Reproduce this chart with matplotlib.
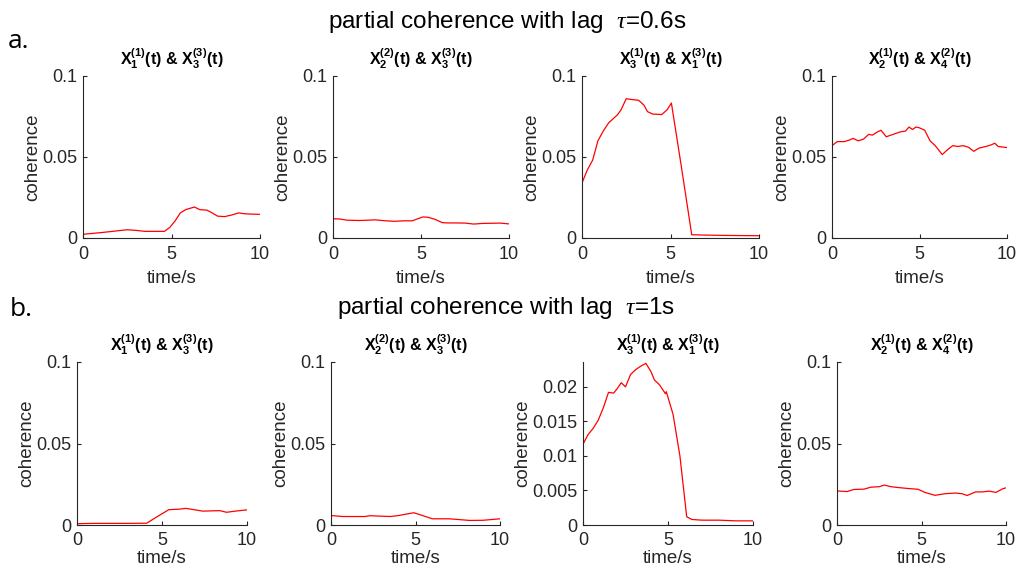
import matplotlib
matplotlib.use("Agg")
import matplotlib.pyplot as plt
import numpy as np

plt.rcParams['font.family'] = ['Liberation Sans', 'DejaVu Sans']
plt.rcParams['mathtext.fontset'] = 'custom'
plt.rcParams['mathtext.rm'] = 'Liberation Sans'
plt.rcParams['mathtext.bf'] = 'Liberation Sans:bold'
plt.rcParams['mathtext.it'] = 'Liberation Serif:italic'
plt.rcParams['mathtext.default'] = 'bf'

# ---------------- data ----------------
titles = [
    r'X$_1^{(1)}$(t) & X$_3^{(3)}$(t)',
    r'X$_2^{(2)}$(t) & X$_3^{(3)}$(t)',
    r'X$_3^{(1)}$(t) & X$_1^{(3)}$(t)',
    r'X$_2^{(1)}$(t) & X$_4^{(2)}$(t)',
]
row_titles = [r'partial coherence with lag  $\mathit{\tau}$=0.6s', r'partial coherence with lag  $\mathit{\tau}$=1s']
row_labels = ['a.', 'b.']

# lag 0.6 s
a1_t = [0, 1, 2, 2.5, 3, 3.5, 4, 4.6, 4.9, 5.2, 5.5, 5.8, 6.1, 6.3, 6.6, 7.0, 7.3, 7.6, 8.0, 8.4, 8.8, 9.1, 9.4, 10]
a1_v = [0.0023, 0.0033, 0.0045, 0.0051, 0.0047, 0.0041, 0.0041, 0.0041, 0.0065, 0.0105, 0.0155, 0.0175, 0.0185, 0.0191, 0.0175, 0.0172, 0.0155, 0.0135, 0.0132, 0.0142, 0.0155, 0.0150, 0.0148, 0.0146]
a2_t = [0, 0.4, 0.8, 1.5, 2.0, 2.4, 3.0, 3.5, 4.0, 4.5, 4.8, 5.1, 5.4, 5.8, 6.2, 6.5, 7.0, 7.5, 8.0, 8.5, 9.0, 9.5, 10]
a2_v = [0.0119, 0.0117, 0.0110, 0.0108, 0.0110, 0.0112, 0.0106, 0.0103, 0.0106, 0.0106, 0.0118, 0.0130, 0.0128, 0.0115, 0.0095, 0.0093, 0.0093, 0.0092, 0.0086, 0.0090, 0.0091, 0.0092, 0.0087]
a3_t = [0, 0.3, 0.6, 0.9, 1.2, 1.5, 2.0, 2.2, 2.5, 2.8, 3.2, 3.5, 3.7, 4.0, 4.5, 4.8, 5.05, 5.6, 6.2, 7.0, 8.0, 9.0, 10]
a3_v = [0.034, 0.042, 0.048, 0.060, 0.066, 0.071, 0.076, 0.079, 0.086, 0.0855, 0.085, 0.082, 0.078, 0.0765, 0.0762, 0.079, 0.0833, 0.045, 0.0020, 0.0018, 0.0016, 0.0015, 0.0014]
a4_t = [0, 0.3, 0.7, 1.0, 1.2, 1.5, 1.8, 2.1, 2.3, 2.6, 2.8, 3.1, 3.5, 3.9, 4.2, 4.4, 4.6, 4.8, 5.0, 5.3, 5.6, 5.9, 6.3, 6.6, 6.9, 7.2, 7.5, 7.8, 8.1, 8.4, 8.8, 9.1, 9.3, 9.5, 10]
a4_v = [0.057, 0.0595, 0.0595, 0.0605, 0.0615, 0.0600, 0.0610, 0.0640, 0.0635, 0.0655, 0.0665, 0.0625, 0.0640, 0.0655, 0.0660, 0.0685, 0.0670, 0.0685, 0.0680, 0.0665, 0.0600, 0.0570, 0.0515, 0.0545, 0.0570, 0.0565, 0.0570, 0.0560, 0.0535, 0.0555, 0.0565, 0.0575, 0.0585, 0.0565, 0.0558]

# lag 1 s
b1_t = [0, 1, 2, 3, 4.1, 4.7, 5.4, 6.0, 6.4, 7.0, 7.4, 8.0, 8.4, 8.8, 9.3, 10]
b1_v = [0.0008, 0.0010, 0.0010, 0.0010, 0.0011, 0.0050, 0.0094, 0.0097, 0.0102, 0.0092, 0.0085, 0.0087, 0.0088, 0.0078, 0.0085, 0.0093]
b2_t = [0, 0.7, 1.5, 2.0, 2.3, 3.0, 3.5, 4.0, 4.5, 4.9, 5.3, 6.0, 7.0, 7.5, 8.2, 9.0, 10]
b2_v = [0.0058, 0.0052, 0.0052, 0.0052, 0.0057, 0.0054, 0.0052, 0.0058, 0.0068, 0.0075, 0.0062, 0.0038, 0.0038, 0.0034, 0.0028, 0.0029, 0.0038]
b3_t = [0, 0.3, 0.6, 0.9, 1.2, 1.5, 1.8, 2.0, 2.25, 2.5, 2.8, 3.1, 3.4, 3.7, 4.0, 4.2, 4.5, 4.85, 4.9, 5.3, 5.7, 6.1, 6.4, 7.0, 8.0, 9.0, 10]
b3_v = [0.0117, 0.0131, 0.0140, 0.0152, 0.0170, 0.0192, 0.0191, 0.0197, 0.0206, 0.0200, 0.0218, 0.0225, 0.0230, 0.0234, 0.0222, 0.0210, 0.0203, 0.0190, 0.0193, 0.0160, 0.0100, 0.0012, 0.0008, 0.0007, 0.0007, 0.0006, 0.0006]
b4_t = [0, 0.6, 1.0, 1.6, 2.0, 2.5, 2.8, 3.2, 3.6, 4.2, 4.8, 5.2, 5.8, 6.4, 7.0, 7.4, 7.7, 8.2, 8.6, 9.0, 9.4, 9.8, 10]
b4_v = [0.0209, 0.0205, 0.0218, 0.0220, 0.0232, 0.0235, 0.0245, 0.0235, 0.0230, 0.0224, 0.0219, 0.0200, 0.0182, 0.0192, 0.0196, 0.0192, 0.0181, 0.0203, 0.0203, 0.0208, 0.0200, 0.0222, 0.0228]

series = [[(a1_t, a1_v), (a2_t, a2_v), (a3_t, a3_v), (a4_t, a4_v)],
          [(b1_t, b1_v), (b2_t, b2_v), (b3_t, b3_v), (b4_t, b4_v)]]

# ---------------- layout ----------------
W, H = 1016, 571
fig = plt.figure(figsize=(W / 100, H / 100), dpi=100)

row_px = [
    dict(xs=[(83, 260), (333, 509), (582, 759), (832, 1007)], top=76, bottom=238, xpad=5),
    dict(xs=[(77, 247), (331, 500), (583, 753), (837, 1006)], top=362, bottom=525, xpad=1),
]
axcol = '#262626'

for r, rp in enumerate(row_px):
    for c, (x0, x1) in enumerate(rp['xs']):
        ax = fig.add_axes([x0 / W, 1 - rp['bottom'] / H, (x1 - x0) / W, (rp['bottom'] - rp['top']) / H])
        t, v = series[r][c]
        ax.plot(t, v, color='red', lw=0.9)
        ax.set_xlim(0, 10)
        ax.set_xticks([0, 5, 10])
        if r == 1 and c == 2:
            ax.set_ylim(0, 0.0236)
            ax.set_yticks([0, 0.005, 0.01, 0.015, 0.02])
            ax.set_yticklabels(['0', '0.005', '0.01', '0.015', '0.02'])
        else:
            ax.set_ylim(0, 0.1)
            ax.set_yticks([0, 0.05, 0.1])
            ax.set_yticklabels(['0', '0.05', '0.1'])
        for s in ['top', 'right']:
            ax.spines[s].set_visible(False)
        for s in ['left', 'bottom']:
            ax.spines[s].set_color(axcol)
            ax.spines[s].set_linewidth(0.8)
        ax.tick_params(direction='in', length=3, width=0.8, colors=axcol, labelsize=13)
        ax.tick_params(axis='x', pad=5 if r == 1 else 6)
        ax.tick_params(axis='y', pad=4)
        ax.set_xlabel('time/s', fontsize=13.5, color=axcol, labelpad=rp['xpad'])
        ax.set_ylabel('coherence', fontsize=13.5, color=axcol, labelpad=1)
        ax.set_title(titles[c], fontsize=11.5, fontweight='bold', pad=8)

fig.text(507 / W, 1 - 22 / H, row_titles[0], ha='center', va='center', fontsize=17.5)
fig.text(506 / W, 1 - 308 / H, row_titles[1], ha='center', va='center', fontsize=17.5)
fig.text(8 / W, 1 - 42 / H, row_labels[0], ha='left', va='center', fontsize=19, family=['Open Sans', 'DejaVu Sans'])
fig.text(10 / W, 1 - 310 / H, row_labels[1], ha='left', va='center', fontsize=19, family=['Open Sans', 'DejaVu Sans'])

fig.savefig('out.png', dpi=100)
